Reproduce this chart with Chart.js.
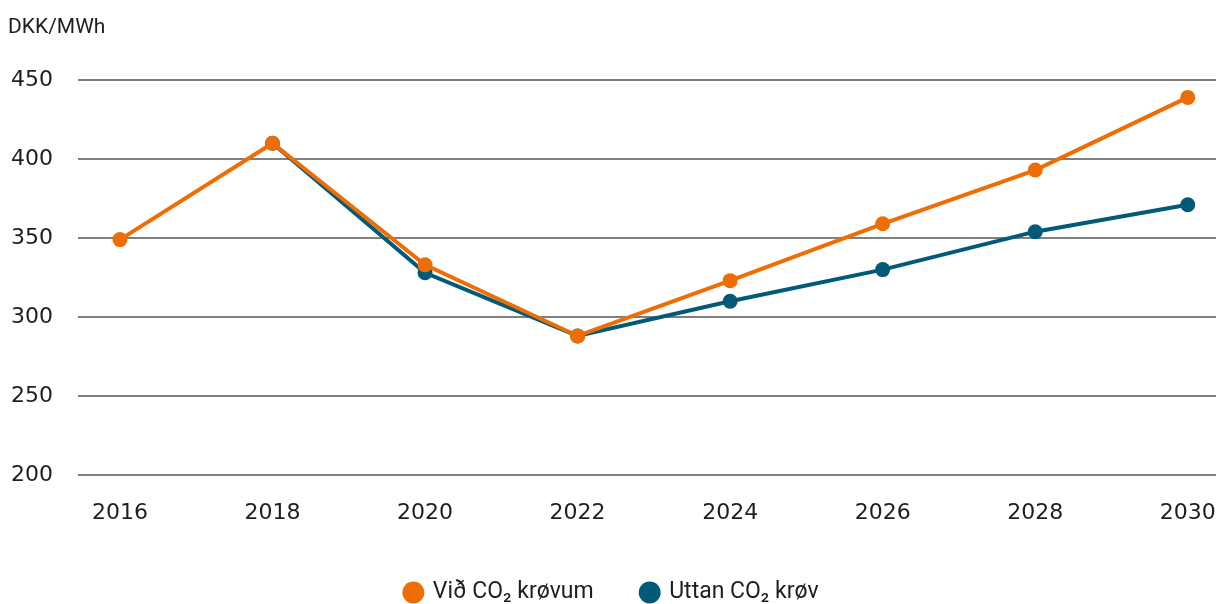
<!DOCTYPE html>
<html>
<head>
<meta charset="utf-8">
<script src="https://cdn.jsdelivr.net/npm/chart.js@4"></script>
<style>
  html, body { margin: 0; padding: 0; background: #fff; overflow: hidden; }
  canvas { display: block; }
</style>
</head>
<body>
<canvas id="myChart" width="1232" height="614"></canvas>
<script>
  // data
  const years = [2016, 2018, 2020, 2022, 2024, 2026, 2028, 2030];
  const withCO2 = [349, 410, 333, 288, 323, 359, 393, 439];
  const withoutCO2 = [null, 410, 328, 288, 310, 330, 354, 371];
  const yTicks = [200, 250, 300, 350, 400, 450];
  const unit = "DKK/MWh";
  const seriesNames = ["Við CO₂ krøvum", "Uttan CO₂ krøv"];

  const orange = "#ee6d04";
  const blue = "#005a78";
  const tickFont = { family: "DejaVu Sans", size: 22 };

  function toPoints(values) {
    return values.map((v, i) => ({ x: years[i], y: v }));
  }

  const ctx = document.getElementById("myChart");

  new Chart(ctx, {
    type: "line",
    data: {
      datasets: [
        {
          label: seriesNames[0],
          data: toPoints(withCO2),
          borderColor: orange,
          backgroundColor: orange,
          pointBackgroundColor: orange,
          borderWidth: 4,
          pointRadius: 7.5,
          pointBorderWidth: 0,
          tension: 0,
        },
        {
          label: seriesNames[1],
          data: toPoints(withoutCO2),
          borderColor: blue,
          backgroundColor: blue,
          pointBackgroundColor: blue,
          borderWidth: 4,
          pointRadius: 7.5,
          pointBorderWidth: 0,
          tension: 0,
        },
      ],
    },
    options: {
      responsive: false,
      animation: false,
      layout: { padding: { left: 8, right: 16, top: 0, bottom: 0 } },
      plugins: {
        title: {
          display: true,
          text: unit,
          align: "start",
          color: "#1e1e1e",
          font: { family: "Roboto", size: 21, weight: "normal" },
          padding: { top: 15, bottom: 39.8 },
        },
        legend: {
          position: "bottom",
          labels: {
            usePointStyle: true,
            pointStyle: "circle",
            boxWidth: 16,
            boxHeight: 15.5,
            padding: 48,
            color: "#1e1e1e",
            font: { family: "Roboto", size: 23 },
          },
        },
        tooltip: { enabled: false },
      },
      scales: {
        x: {
          type: "linear",
          min: 2015.45,
          max: 2030.37,
          grid: { display: false, drawTicks: false },
          border: { display: false },
          afterBuildTicks: (scale) => {
            scale.ticks = years.map((v) => ({ value: v }));
          },
          afterFit: (scale) => {
            scale.height = 58;
            scale.paddingLeft = 0;
            scale.paddingRight = 0;
          },
          ticks: {
            autoSkip: false,
            maxRotation: 0,
            padding: 25,
            color: "#1e1e1e",
            font: tickFont,
            callback: (v) => String(v),
          },
        },
        y: {
          min: 200,
          max: 450,
          grid: { color: "#7f7f7f", lineWidth: 2, drawTicks: false },
          border: { display: false },
          afterBuildTicks: (scale) => {
            scale.ticks = yTicks.map((v) => ({ value: v }));
          },
          afterFit: (scale) => {
            scale.width = 70;
          },
          ticks: {
            padding: 25,
            color: "#1e1e1e",
            font: tickFont,
          },
        },
      },
    },
  });
</script>
</body>
</html>
